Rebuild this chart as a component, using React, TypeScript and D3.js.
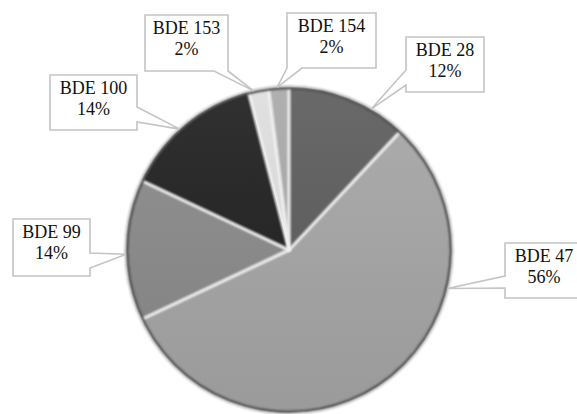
import React from 'react';
import * as d3 from 'd3';

// congener shares, clockwise from 12 o'clock
const congeners = ['BDE 28', 'BDE 47', 'BDE 99', 'BDE 100', 'BDE 153', 'BDE 154'];
const shares = [12, 56, 14, 14, 2, 2];
const shareLabels = ['12%', '56%', '14%', '14%', '2%', '2%'];
const greys = ['#5c5c5c', '#a6a6a6', '#8a8a8a', '#1f1f1f', '#dedede', '#a9a9a9'];

// callout boxes: [x, y, w, h], which side the tail leaves from, tail base span, where along the slice it points
const boxes = [
  { box: [406, 37, 78, 55], side: 'left', span: [70, 85], t: 0.7 },
  { box: [505, 243, 78, 55], side: 'left', span: [276, 288], t: 0.3 },
  { box: [13, 219, 77, 57], side: 'right', span: [253, 268], t: 0.47 },
  { box: [50, 75, 87, 55], side: 'right', span: [107, 122], t: 0.45 },
  { box: [145, 15, 83, 56], side: 'bottom', span: [214, 228], t: 0.26 },
  { box: [287, 13, 89, 55], side: 'bottom', span: [287, 302], t: 0.42 },
];

const W = 577;
const H = 414;
const cx = 289;
const cy = 250;
const R = 163;

function calloutPath(b: number[], side: string, span: number[], tip: number[]) {
  const [x, y, w, h] = b;
  const x2 = x + w;
  const y2 = y + h;
  let p = `M${x},${y}L${x2},${y}`;
  if (side === 'right') {
    p += `L${x2},${span[0]}L${tip[0]},${tip[1]}L${x2},${span[1]}`;
  }
  p += `L${x2},${y2}`;
  if (side === 'bottom') {
    p += `L${span[1]},${y2}L${tip[0]},${tip[1]}L${span[0]},${y2}`;
  }
  p += `L${x},${y2}`;
  if (side === 'left') {
    p += `L${x},${span[1]}L${tip[0]},${tip[1]}L${x},${span[0]}`;
  }
  return p + 'Z';
}

export default function App() {
  const pie = d3.pie<number>().sort(null).value((d) => d);
  const arcs = pie(shares);
  const arc = d3.arc<d3.PieArcDatum<number>>().innerRadius(0).outerRadius(R);

  return (
    <svg width={W} height={H} style={{ position: 'absolute', left: 0, top: 0, background: '#fff' }}>
      <defs>
        <linearGradient id="shade" x1="0" y1="0" x2="0" y2="1">
          <stop offset="0" stopColor="#fff" stopOpacity="0.08" />
          <stop offset="1" stopColor="#000" stopOpacity="0.07" />
        </linearGradient>
        <filter id="soft" x="-20%" y="-20%" width="140%" height="140%">
          <feGaussianBlur stdDeviation="1.2" />
        </filter>
      </defs>

      <g transform={`translate(${cx},${cy})`}>
        {arcs.map((a, i) => (
          <path key={congeners[i]} d={arc(a) || ''} fill={greys[i]} />
        ))}
        <circle r={R} fill="url(#shade)" />
        {arcs.map((a, i) => (
          <path
            key={'edge' + i}
            d={arc(a) || ''}
            fill="none"
            stroke="#f2f2f2"
            strokeOpacity={0.75}
            strokeWidth={2.5}
            strokeLinejoin="round"
            filter="url(#soft)"
          />
        ))}
        <circle r={R - 1} fill="none" stroke="#3a3a3a" strokeWidth={2.5} filter="url(#soft)" />
        <circle r={R + 1} fill="none" stroke="#d8d8d8" strokeWidth={1.5} filter="url(#soft)" />
      </g>

      {arcs.map((a, i) => {
        const c = boxes[i];
        const ang = a.startAngle + c.t * (a.endAngle - a.startAngle);
        const tip = [cx + R * Math.sin(ang), cy - R * Math.cos(ang)];
        const [bx, by, bw] = c.box;
        const mid = bx + bw / 2;
        return (
          <g key={'lab' + i}>
            <path
              d={calloutPath(c.box, c.side, c.span, tip)}
              fill="#fff"
              stroke="#c4c4c4"
              strokeWidth={1.6}
              strokeLinejoin="miter"
            />
            <text x={mid} y={by + 18.5} textAnchor="middle" fontFamily="Liberation Serif" fontSize={18} fill="#111">
              {congeners[i]}
            </text>
            <text x={mid} y={by + 40} textAnchor="middle" fontFamily="Liberation Serif" fontSize={18} fill="#111">
              {shareLabels[i]}
            </text>
          </g>
        );
      })}
    </svg>
  );
}
